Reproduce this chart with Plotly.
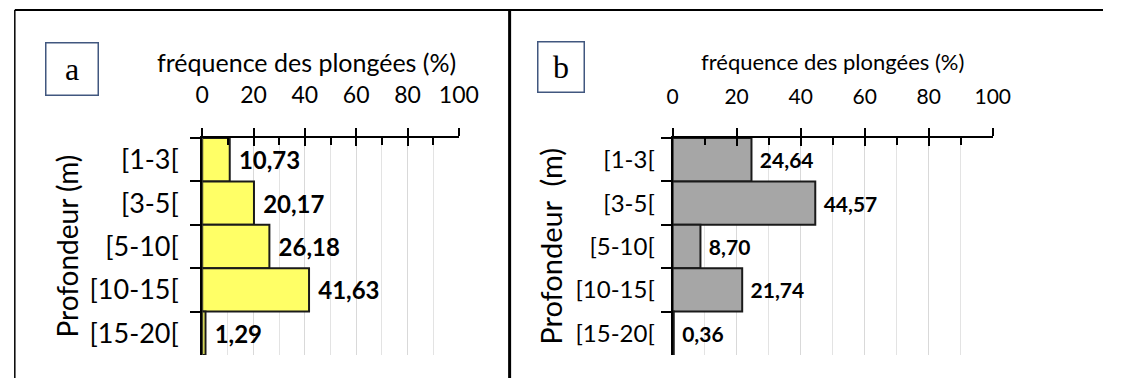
import plotly.graph_objects as go

categories = ["[1-3[", "[3-5[", "[5-10[", "[10-15[", "[15-20["]
values_a = [10.73, 20.17, 26.18, 41.63, 1.29]
values_b = [24.64, 44.57, 8.70, 21.74, 0.36]
x_ticks = [0, 20, 40, 60, 80, 100]
x_title = "fréquence des plongées (%)"
y_title_a = "Profondeur (m)"
y_title_b = "Profondeur  (m)"
panel_labels = ["a", "b"]

W, H = 1123, 378
FONT = "Lato"

def px(x):
    return x / W

def py(y):
    return 1 - y / H

fs = {
    "a": dict(tick=23, cat=27, data=24, title=25, ytitle=28),
    "b": dict(tick=21, cat=24, data=21, title=22, ytitle=29),
}

fig = go.Figure()

fig.add_trace(go.Bar(
    x=values_a, y=categories, orientation="h", xaxis="x", yaxis="y",
    marker=dict(color="#FFFF66", line=dict(color="#1a1a1a", width=2)),
    texttemplate=" <b>%{x:.2f}</b>", textposition="outside", cliponaxis=False,
    constraintext="none",
    textfont=dict(family=FONT, size=fs["a"]["data"], color="black"), showlegend=False,
))
fig.add_trace(go.Bar(
    x=values_b, y=categories, orientation="h", xaxis="x2", yaxis="y2",
    marker=dict(color="#A6A6A6", line=dict(color="#1a1a1a", width=2)),
    texttemplate=" <b>%{x:.2f}</b>", textposition="outside", cliponaxis=False,
    constraintext="none",
    textfont=dict(family=FONT, size=fs["b"]["data"], color="black"), showlegend=False,
))

ydom = [py(355), py(138)]
doms = {"a": [px(200), px(463)], "b": [px(682), px(1010)]}

def xaxis_main(dom, anchor, tick_size):
    return dict(
        domain=dom, anchor=anchor, side="top", range=[0, 100],
        tickvals=x_ticks, ticks="outside", ticklen=8, tickwidth=2, tickcolor="black",
        showline=True, linecolor="black", linewidth=2,
        showgrid=True, gridcolor="#d9d9d9", gridwidth=1,
        minor=dict(dtick=10, showgrid=True, gridcolor="#e3e3e3", gridwidth=1, ticks=""),
        tickfont=dict(family=FONT, size=tick_size, color="black"), ticklabelstandoff=16,
        zeroline=False, fixedrange=True,
    )

def xaxis_overlay(dom, anchor, over):
    return dict(
        domain=dom, anchor=anchor, overlaying=over, side="top", range=[0, 100],
        tickvals=x_ticks, ticks="inside", ticklen=8, tickwidth=2, tickcolor="black",
        showticklabels=False, showgrid=False, showline=False, zeroline=False,
        minor=dict(dtick=10, ticks="inside", ticklen=7, tickwidth=2, tickcolor="black", showgrid=False),
    )

def yaxis(anchor, standoff, cat_size):
    return dict(
        domain=ydom, anchor=anchor, type="category", categoryorder="array",
        categoryarray=categories, autorange="reversed",
        tickson="boundaries", ticks="outside", ticklen=10, tickwidth=2, tickcolor="black",
        showline=True, linecolor="black", linewidth=2, showgrid=False, zeroline=False,
        tickfont=dict(family=FONT, size=cat_size, color="black"), ticklabelstandoff=standoff,
        fixedrange=True,
    )

fig.update_layout(
    width=W, height=H, margin=dict(l=0, r=0, t=0, b=0),
    paper_bgcolor="white", plot_bgcolor="white",
    separators=", ", bargap=0,
    xaxis=xaxis_main(doms["a"], "y", fs["a"]["tick"]),
    xaxis3=xaxis_overlay(doms["a"], "y", "x"),
    xaxis2=xaxis_main(doms["b"], "y2", fs["b"]["tick"]),
    xaxis4=xaxis_overlay(doms["b"], "y2", "x2"),
    yaxis=yaxis("x", 16, fs["a"]["cat"]),
    yaxis2=yaxis("x2", 11, fs["b"]["cat"]),
)

fig.add_trace(go.Scatter(x=[None], y=[None], xaxis="x3", yaxis="y", showlegend=False, hoverinfo="skip"))
fig.add_trace(go.Scatter(x=[None], y=[None], xaxis="x4", yaxis="y2", showlegend=False, hoverinfo="skip"))

annotations = []
for cx, k in [(307, "a"), (846, "b")]:
    annotations.append(dict(x=px(cx), y=py(62), xref="paper", yref="paper", text=x_title,
                            showarrow=False, font=dict(family=FONT, size=fs[k]["title"], color="black"),
                            xanchor="center", yanchor="middle"))
for cx, yt, k in [(61, y_title_a, "a"), (556, y_title_b, "b")]:
    annotations.append(dict(x=px(cx), y=py(246), xref="paper", yref="paper", text=yt, textangle=-90,
                            showarrow=False, font=dict(family=FONT, size=fs[k]["ytitle"], color="black"),
                            xanchor="center", yanchor="middle"))
for (x0, x1, y0, y1), lab in [((39, 94, 42, 97), panel_labels[0]), ((543, 592, 40, 93), panel_labels[1])]:
    annotations.append(dict(x=px((x0 + x1) / 2), y=py((y0 + y1) / 2), xref="paper", yref="paper",
                            text=lab, showarrow=False, width=x1 - x0 - 4, height=y1 - y0 - 4,
                            bordercolor="#41577F", borderwidth=1.5, borderpad=0,
                            font=dict(family="Liberation Serif", size=32, color="black"),
                            xanchor="center", yanchor="middle"))
fig.update_layout(annotations=annotations)

shapes = [
    dict(type="line", xref="paper", yref="paper", x0=px(8), x1=1, y0=py(10), y1=py(10),
         line=dict(color="black", width=2)),
    dict(type="line", xref="paper", yref="paper", x0=px(8), x1=px(8), y0=py(10), y1=0,
         line=dict(color="black", width=1.5)),
    dict(type="line", xref="paper", yref="paper", x0=px(515), x1=px(515), y0=py(10), y1=0,
         line=dict(color="black", width=3)),
]
fig.update_layout(shapes=shapes)

post = (
    "document.documentElement.style.margin='0';document.body.style.margin='0';"
    "document.documentElement.style.overflow='hidden';document.body.style.overflow='hidden';"
)

fig.write_html("out.html", config={"displayModeBar": False, "staticPlot": True}, post_script=post)
